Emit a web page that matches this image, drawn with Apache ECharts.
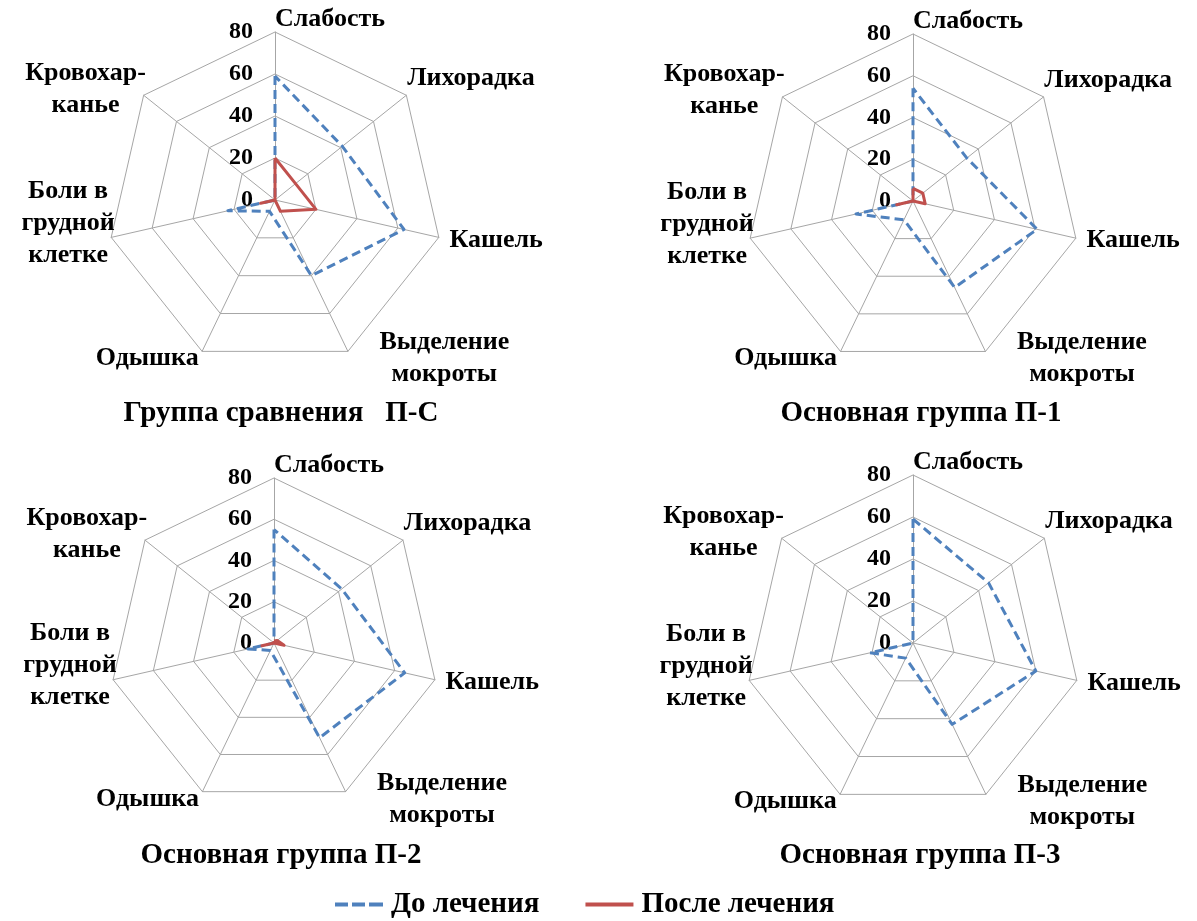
<!DOCTYPE html>
<html>
<head>
<meta charset="utf-8">
<script src="https://cdn.jsdelivr.net/npm/echarts@6/dist/echarts.min.js"></script>
<style>
html, body { margin: 0; padding: 0; background: #fff; }
#main { width: 1197px; height: 921px; }
</style>
</head>
<body>
<div id="main"></div>
<script>
// categories, clockwise from the top like in the source figure
var indicators = ['Слабость', 'Лихорадка', 'Кашель', 'Выделение\nмокроты', 'Одышка', 'Боли в\nгрудной\nклетке', 'Кровохар-\nканье'];
var axisMax = 80;
var tickLabels = [0, 20, 40, 60, 80];
var groupTitles = ['Группа сравнения   П-С', 'Основная группа П-1', 'Основная группа П-2', 'Основная группа П-3'];
var seriesNames = ['До лечения', 'После лечения'];

// values per group (%), same order as indicators
var beforeSC = [59, 41, 63, 40, 6, 23, 0];
var afterSC  = [20, 12.5, 20, 6, 0, 7, 0];
var before1  = [54, 33, 61, 46, 10, 28, 0];
var after1   = [6, 6, 6, 0, 0, 8, 0];
var before2  = [55, 42, 65, 51, 4, 13, 0];
var after2   = [1, 2, 5, 0, 0, 6, 0];
var before3  = [59, 46, 60, 43, 8, 21, 0];
var after3   = [0, 0, 0, 0, 0, 0, 0];

var groups = [[beforeSC, afterSC], [before1, after1], [before2, after2], [before3, after3]];

var dom = document.getElementById('main');
var myChart = echarts.init(dom);

// echarts lays radar axes counter-clockwise, so flip everything after the first one
var order = [0, 6, 5, 4, 3, 2, 1];
function reorder(arr) {
    return order.map(function (i) { return arr[i]; });
}

var font = 'Liberation Serif';
var nameSize = 26;
var blue = '#4f81bd';
var red = '#c0504d';

// name placement tweaks per axis (index in the source order)
var nameLayout = [
    { nameGap: -3, style: { align: 'left', verticalAlign: 'bottom' } },
    { nameGap: 1, style: { align: 'left', verticalAlign: 'bottom' } },
    { nameGap: 11, style: {} },
    { nameGap: 8, style: { align: 'left', padding: [0, 0, 0, 27] } },
    { nameGap: 8, style: {} },
    { nameGap: -5, style: { align: 'right', padding: [0, 0, 26, 0] } },
    { nameGap: -3, style: { align: 'right', padding: [0, 0, 16, 0] } }
];

var richTag = { 'Выделение': 'v', 'Боли в': 'b', 'Кровохар-': 'k' };

function buildIndicators() {
    var list = indicators.map(function (name, i) {
        var ind = {
            name: name,
            max: axisMax,
            min: 0,
            nameGap: nameLayout[i].nameGap,
            nameTextStyle: nameLayout[i].style
        };
        if (i === 0) {
            ind.axisLabel = {
                show: true,
                margin: 22,
                color: '#000',
                fontFamily: font,
                fontWeight: 'bold',
                fontSize: 24,
                padding: [6, 0, 0, 0],
                showMinLabel: true,
                showMaxLabel: true,
                formatter: function (v) {
                    return tickLabels.indexOf(v) >= 0 ? String(v) : '';
                }
            };
        }
        return ind;
    });
    return reorder(list);
}

function tokenStyle(w) {
    return { width: w, align: 'center', fontFamily: font, fontWeight: 'bold', fontSize: nameSize, color: '#000', lineHeight: 32 };
}

var centers = [[275, 200], [913, 201], [274, 643], [913, 643]];
var radii = [168, 167, 165, 168];
var titlePos = [[276, 394], [916, 394], [276, 836], [915, 836]];

var radars = [], series = [], titles = [];
groups.forEach(function (g, k) {
    radars.push({
        center: centers[k],
        radius: radii[k],
        shape: 'polygon',
        splitNumber: 4,
        startAngle: 90,
        indicator: buildIndicators(),
        axisName: {
            color: '#000',
            fontFamily: font,
            fontWeight: 'bold',
            fontSize: nameSize,
            lineHeight: 32,
            formatter: function (name) {
                var lines = name.split('\n');
                var tag = richTag[lines[0]];
                if (!tag) return name;
                return lines.map(function (l) { return '{' + tag + '|' + l + '}'; }).join('\n');
            },
            rich: {
                v: tokenStyle(132),
                b: tokenStyle(96),
                k: tokenStyle(121)
            }
        },
        axisLabel: { show: false },
        axisLine: { lineStyle: { color: '#a6a6a6', width: 1 } },
        splitLine: { lineStyle: { color: '#a6a6a6', width: 1 } },
        splitArea: { show: false }
    });
    series.push({
        type: 'radar',
        radarIndex: k,
        symbol: 'none',
        data: [{
            name: seriesNames[0],
            value: reorder(g[0]),
            lineStyle: { color: blue, width: 3, type: [9, 5] },
            itemStyle: { color: blue }
        }, {
            name: seriesNames[1],
            value: reorder(g[1]),
            lineStyle: { color: red, width: 3, type: 'solid' },
            itemStyle: { color: red }
        }]
    });
    titles.push({
        text: groupTitles[k],
        left: titlePos[k][0],
        top: titlePos[k][1],
        textAlign: 'center',
        textStyle: { fontFamily: font, fontWeight: 'bold', fontSize: 29, color: '#000' }
    });
});

option = {
    backgroundColor: '#fff',
    animation: false,
    title: titles,
    legend: {
        left: 335,
        top: 890,
        padding: 0,
        itemWidth: 48,
        itemHeight: 4,
        itemGap: 46,
        data: [{
            name: seriesNames[0],
            icon: 'path://M0,0H13V4H0Z M17,0H30V4H17Z M34,0H48V4H34Z',
            itemStyle: { color: blue, borderWidth: 0 }
        }, {
            name: seriesNames[1],
            icon: 'path://M0,0H48V4H0Z',
            itemStyle: { color: red, borderWidth: 0 }
        }],
        textStyle: { fontFamily: font, fontWeight: 'bold', fontSize: 29, color: '#000', padding: [0, 0, 0, 3] }
    },
    radar: radars,
    series: series
};

myChart.setOption(option, true);
</script>
</body>
</html>
